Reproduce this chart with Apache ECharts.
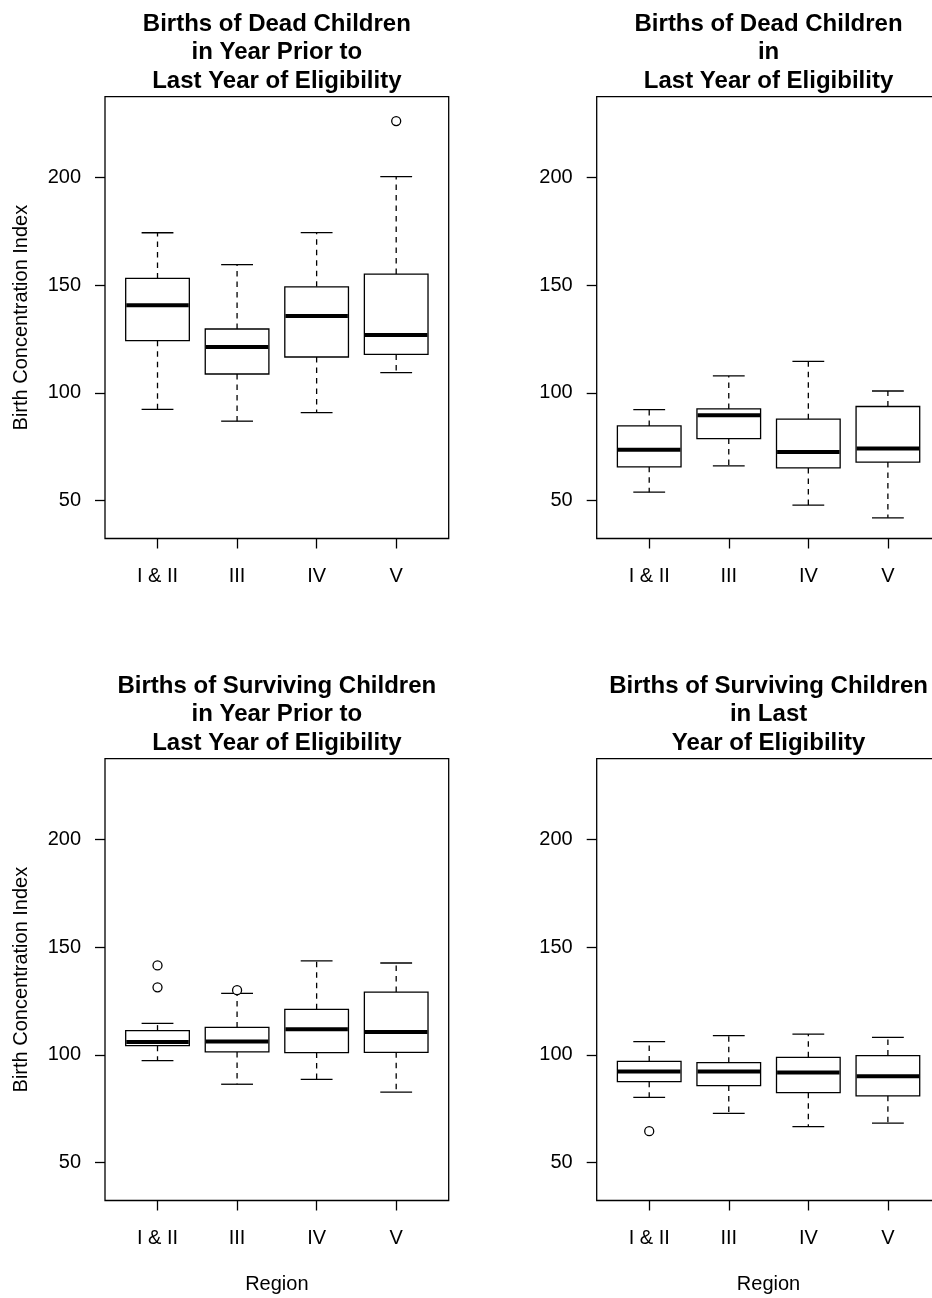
<!DOCTYPE html>
<html>
<head>
<meta charset="utf-8">
<script src="https://cdn.jsdelivr.net/npm/echarts@6/dist/echarts.min.js"></script>
<style>
html,body{margin:0;padding:0;background:#fff;overflow:hidden;}
#wrap{width:932px;height:1298px;overflow:hidden;position:relative;}
#chart{width:960px;height:1298px;}
</style>
</head>
<body>
<div id="wrap"><div id="chart"></div></div>
<script>
// ---- data ----
const regions = ['I & II', 'III', 'IV', 'V'];
const yTicks = [50, 100, 150, 200];
const xTicks = [1, 2, 3, 4];

// [lower whisker, Q1, median, Q3, upper whisker] per region
const deadPriorStats = [[92.4,124.3,140.7,153.2,174.4],[86.9,108.8,121.3,129.7,159.6],[90.9,116.7,135.7,149.3,174.5],[109.4,117.9,126.9,155.2,200.5]];
const deadLastStats  = [[53.9,65.7,73.6,84.7,92.3],[66.1,78.8,89.7,92.6,107.9],[47.9,65.2,72.6,87.8,114.7],[42.0,67.9,74.2,93.7,100.9]];
const survPriorStats = [[97.4,104.3,106.0,111.3,114.7],[86.4,101.4,106.3,112.8,128.6],[88.7,101.1,111.9,121.2,143.7],[82.7,101.2,110.7,129.2,142.7]];
const survLastStats  = [[80.3,87.6,92.3,97.0,106.2],[72.9,85.8,92.3,96.4,109.0],[66.7,82.5,91.9,98.9,109.7],[68.3,81.0,90.1,99.7,108.2]];

// outliers: [region index (1-based), value]
const deadPriorOut = [[4,226.3]];
const deadLastOut  = [];
const survPriorOut = [[1,141.6],[1,131.4],[2,130.1]];
const survLastOut  = [[1,64.6]];

const titles = [
  'Births of Dead Children\nin Year Prior to\nLast Year of Eligibility',
  'Births of Dead Children\nin\nLast Year of Eligibility',
  'Births of Surviving Children\nin Year Prior to\nLast Year of Eligibility',
  'Births of Surviving Children\nin Last\nYear of Eligibility'
];
const yTitle = 'Birth Concentration Index';
const xTitle = 'Region';

// ---- layout ----
const FONT = '"Liberation Sans", Arial, Helvetica, sans-serif';
const panels = [
  {left:105,   top:96.7,  stats:deadPriorStats, out:deadPriorOut, yName:true,  xName:false},
  {left:596.7, top:96.7,  stats:deadLastStats,  out:deadLastOut,  yName:false, xName:false},
  {left:105,   top:758.7, stats:survPriorStats, out:survPriorOut, yName:true,  xName:true},
  {left:596.7, top:758.7, stats:survLastStats,  out:survLastOut,  yName:false, xName:true}
];
const PW = 343.7, PH = 441.8;
const LW = 1.3;

function renderBox(params, api) {
  const x = api.value(0);
  const lo = api.coord([x, api.value(1)]);
  const q1 = api.coord([x, api.value(2)]);
  const md = api.coord([x, api.value(3)]);
  const q3 = api.coord([x, api.value(4)]);
  const hi = api.coord([x, api.value(5)]);
  const bw = api.size([0.8, 0])[0];
  const sw = api.size([0.4, 0])[0];
  const cx = lo[0];
  const ln = (x1,y1,x2,y2,w,dash) => ({type:'line', shape:{x1,y1,x2,y2},
    style:{stroke:'#000', lineWidth:w, lineDash:dash||null, lineCap:'butt'}});
  return {type:'group', children:[
    ln(cx, q3[1], cx, hi[1], LW, [5.5,5]),
    ln(cx, q1[1], cx, lo[1], LW, [5.5,5]),
    ln(cx - sw/2, hi[1], cx + sw/2, hi[1], LW),
    ln(cx - sw/2, lo[1], cx + sw/2, lo[1], LW),
    {type:'rect', shape:{x:cx - bw/2, y:q3[1], width:bw, height:q1[1]-q3[1]},
     style:{fill:'#fff', stroke:'#000', lineWidth:LW}},
    ln(cx - bw/2 + 0.6, md[1], cx + bw/2 - 0.6, md[1], 4)
  ]};
}

const option = {
  backgroundColor:'#fff',
  animation:false,
  title: panels.map((p,i) => ({
    text: titles[i],
    left: p.left + PW/2,
    top: p.top - 87,
    padding: 0,
    textAlign:'center',
    textStyle:{fontFamily:FONT, fontSize:24, fontWeight:'bold', color:'#000', lineHeight:28.5}
  })),
  grid: panels.map(p => ({left:p.left, top:p.top, width:PW, height:PH, show:true,
    borderColor:'#000', borderWidth:LW, backgroundColor:'transparent', containLabel:false})),
  xAxis: panels.map((p,i) => ({
    type:'value', gridIndex:i, min:0.34, max:4.66,
    name: p.xName ? xTitle : '', nameLocation:'middle', nameGap:74,
    nameTextStyle:{fontFamily:FONT, fontSize:20, color:'#000'},
    axisLine:{show:false}, splitLine:{show:false},
    axisTick:{show:true, inside:false, length:10, customValues:xTicks, lineStyle:{color:'#000', width:LW}},
    axisLabel:{show:true, customValues:xTicks, margin:28, fontFamily:FONT, fontSize:20, color:'#000',
      formatter: v => regions[Math.round(v)-1] || ''}
  })),
  yAxis: panels.map((p,i) => ({
    type:'value', gridIndex:i, min:32.4, max:237.6,
    name: p.yName ? yTitle : '', nameLocation:'middle', nameGap:74,
    nameTextStyle:{fontFamily:FONT, fontSize:20, color:'#000'},
    axisLine:{show:false}, splitLine:{show:false},
    axisTick:{show:true, inside:false, length:10, customValues:yTicks, lineStyle:{color:'#000', width:LW}},
    axisLabel:{show:true, customValues:yTicks, margin:24, fontFamily:FONT, fontSize:20, color:'#000'}
  })),
  series: panels.flatMap((p,i) => [
    {type:'custom', xAxisIndex:i, yAxisIndex:i, renderItem:renderBox,
     data: p.stats.map((s,k) => [k+1, ...s]), encode:{x:0, y:[1,2,3,4,5]}, clip:false},
    {type:'scatter', xAxisIndex:i, yAxisIndex:i, data:p.out, symbol:'circle', symbolSize:9,
     itemStyle:{color:'#fff', borderColor:'#000', borderWidth:LW, opacity:1}, z:3}
  ])
};

const chart = echarts.init(document.getElementById('chart'), null, {renderer:'canvas', width:960, height:1298});
chart.setOption(option);
</script>
</body>
</html>
